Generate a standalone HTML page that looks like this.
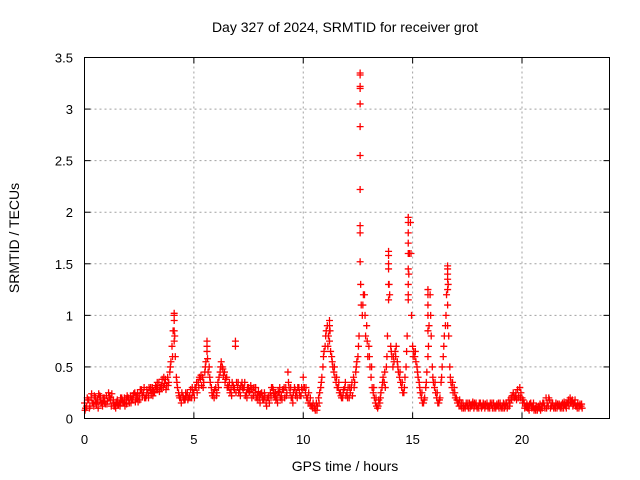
<!DOCTYPE html>
<html><head><meta charset="utf-8"><style>
body{margin:0;background:#fff}
svg{display:block;font-family:"Liberation Sans",sans-serif}
</style></head><body>
<svg id="chart" width="640" height="480" xmlns="http://www.w3.org/2000/svg">
<text x="345" y="32" font-size="14" text-anchor="middle">Day 327 of 2024, SRMTID for receiver grot</text>
<text x="345" y="471" font-size="14" text-anchor="middle">GPS time / hours</text>
<text transform="translate(19,238) rotate(-90)" font-size="14" text-anchor="middle">SRMTID / TECUs</text>
<g id="grid"></g>
<g id="ticks"></g>
<g id="pts"></g>
<rect x="84.5" y="57.5" width="525" height="361" fill="none" stroke="#000"/>
</svg>
<script>
const xTicks=[0,5,10,15,20];
const yTicks=[0,0.5,1,1.5,2,2.5,3,3.5];
const yTickLabels=["0","0.5","1","1.5","2","2.5","3","3.5"];
const startHour=0, stepHour=0.1;
const valuesA=[0.15,0.12,0.18,0.2,0.15,0.2,0.18,0.22,0.15,0.2,
0.22,0.25,0.18,0.15,0.12,0.18,0.15,0.2,0.15,0.18,
0.2,0.22,0.18,0.25,0.2,0.22,0.28,0.25,0.2,0.25,
0.28,0.3,0.25,0.3,0.35,0.32,0.3,0.38,0.4,0.45,
0.7,1.0,0.4,0.25,0.2,0.22,0.18,0.25,0.22,0.2,
0.25,0.3,0.35,0.38,0.4,0.45,0.65,0.5,0.3,0.25,
0.3,0.35,0.45,0.5,0.45,0.4,0.3,0.28,0.32,0.7,
0.3,0.28,0.35,0.3,0.25,0.3,0.32,0.28,0.25,0.22,
0.2,0.25,0.18,0.15,0.2,0.25,0.3,0.22,0.2,0.25,
0.22,0.28,0.3,0.45,0.25,0.2,0.3,0.25,0.3,0.22,
0.4,0.25,0.2,0.15,0.12,0.1,0.15,0.2,0.3,0.5,
0.7,0.9,0.75,0.6,0.45,0.35,0.3,0.25,0.2,0.3,
0.25,0.2,0.3,0.4,0.45,0.6,1.8,1.0,1.2,0.9,
0.7,0.4,0.25,0.15,0.1,0.15,0.3,0.35,0.5,1.5,
0.7,0.5,0.65,0.55,0.4,0.3,0.25,0.5,1.2,1.9,
0.7,0.6,0.5,0.35,0.2,0.15,0.3,0.6,1.2,0.5,
0.3,0.2,0.15,0.35,0.6,0.9,1.4,0.5,0.3,0.3,
0.2,0.15,0.12,0.15,0.1,0.12,0.15,0.12,0.1,0.15,
0.12,0.15,0.12,0.1,0.15,0.12,0.13,0.15,0.1,0.12,
0.15,0.12,0.1,0.15,0.18,0.2,0.25,0.22,0.28,0.3,
0.2,0.15,0.12,0.1,0.15,0.12,0.1,0.08,0.1,0.12,
0.15,0.2,0.12,0.1,0.15,0.12,0.1,0.14,0.12,0.1,
0.12,0.15,0.2,0.18,0.15,0.12,0.1,0.12];
const valuesB=[0.1,0.18,0.12,0.15,0.22,0.14,0.24,0.16,0.2,0.14,
0.17,0.2,0.24,0.12,0.16,0.13,0.2,0.16,0.12,0.22,
0.15,0.18,0.24,0.2,0.16,0.28,0.22,0.2,0.28,0.3,
0.24,0.26,0.32,0.28,0.3,0.38,0.34,0.32,0.35,0.55,
0.85,0.6,0.3,0.2,0.25,0.18,0.22,0.2,0.28,0.25,
0.3,0.25,0.4,0.32,0.35,0.55,0.45,0.35,0.22,0.28,
0.25,0.4,0.55,0.42,0.38,0.32,0.25,0.35,0.28,0.35,
0.25,0.32,0.28,0.22,0.3,0.26,0.2,0.3,0.2,0.26,
0.24,0.18,0.22,0.2,0.15,0.3,0.24,0.18,0.26,0.2,
0.28,0.2,0.25,0.3,0.2,0.25,0.22,0.3,0.22,0.28,
0.3,0.2,0.25,0.12,0.15,0.08,0.12,0.25,0.4,0.65,
0.85,0.8,0.65,0.5,0.4,0.3,0.25,0.2,0.28,0.22,
0.3,0.25,0.22,0.35,0.55,0.8,1.1,1.2,0.8,0.6,
0.5,0.3,0.2,0.12,0.18,0.25,0.4,0.3,0.8,1.2,
0.6,0.55,0.7,0.45,0.35,0.25,0.4,0.8,1.6,1.0,
0.65,0.55,0.4,0.25,0.15,0.2,0.45,0.9,0.8,0.35,
0.25,0.15,0.2,0.5,0.8,1.2,0.8,0.35,0.25,0.2,
0.15,0.18,0.1,0.12,0.15,0.1,0.12,0.16,0.12,0.1,
0.15,0.1,0.14,0.12,0.1,0.15,0.1,0.12,0.14,0.1,
0.1,0.15,0.12,0.12,0.15,0.22,0.2,0.18,0.22,0.25,
0.18,0.12,0.1,0.14,0.1,0.08,0.12,0.12,0.08,0.15,
0.1,0.15,0.18,0.12,0.1,0.15,0.12,0.1,0.15,0.14,
0.15,0.12,0.16,0.14,0.12,0.15,0.14,0.1];
const valuesC=[0.08,0.2,0.1,0.24,0.12,0.16,0.1,0.2,0.12,0.16,
0.14,0.22,0.12,0.18,0.1,0.14,0.12,0.18,0.2,0.14,
0.18,0.15,0.22,0.16,0.24,0.18,0.25,0.3,0.22,0.2,
0.3,0.22,0.28,0.35,0.26,0.3,0.4,0.28,0.32,0.5,
0.6,0.8,0.35,0.22,0.15,0.2,0.25,0.18,0.2,0.3,
0.2,0.35,0.3,0.42,0.3,0.5,0.58,0.4,0.25,0.2,
0.22,0.3,0.5,0.48,0.35,0.3,0.35,0.22,0.3,0.25,
0.35,0.22,0.3,0.35,0.2,0.25,0.28,0.22,0.3,0.18,
0.15,0.22,0.25,0.12,0.22,0.2,0.28,0.25,0.15,0.3,
0.18,0.3,0.22,0.35,0.3,0.15,0.28,0.2,0.25,0.3,
0.3,0.3,0.15,0.2,0.1,0.12,0.08,0.15,0.35,0.6,
0.8,0.7,0.85,0.55,0.5,0.4,0.35,0.22,0.25,0.35,
0.2,0.3,0.35,0.3,0.5,0.7,1.3,1.1,1.0,0.75,
0.6,0.5,0.3,0.2,0.12,0.2,0.35,0.45,0.6,1.3,
0.65,0.6,0.6,0.5,0.45,0.35,0.3,0.65,1.4,1.6,
0.6,0.65,0.45,0.3,0.25,0.18,0.35,0.7,1.0,0.4,
0.35,0.25,0.18,0.4,0.7,1.0,1.3,0.4,0.35,0.25,
0.18,0.12,0.15,0.1,0.12,0.15,0.1,0.14,0.15,0.12,
0.1,0.12,0.15,0.14,0.12,0.1,0.15,0.1,0.12,0.15,
0.12,0.1,0.14,0.1,0.12,0.18,0.22,0.25,0.2,0.2,
0.15,0.1,0.14,0.08,0.12,0.15,0.08,0.1,0.14,0.1,
0.12,0.1,0.2,0.15,0.12,0.1,0.14,0.12,0.1,0.16,
0.1,0.18,0.15,0.12,0.18,0.1,0.12,0.14];
const spikeHours=[12.6,12.6,12.6,12.6,12.6,12.6,12.6,12.6,12.6,12.6,13.9,13.9,13.9,13.9,13.9,13.9,14.8,14.8,14.8,14.8,14.8,14.8,14.8,14.8,15.7,15.7,15.7,15.7,15.7,16.6,16.6,16.6,16.6,16.6,16.6,4.1,4.1,4.1,4.1,5.6,5.6,5.6,6.9,6.9,11.2,11.2,11.2];
const spikeValues=[3.35,3.33,3.22,3.2,3.05,2.83,2.55,2.22,1.87,1.52,1.62,1.58,1.5,1.45,1.3,1.15,1.95,1.9,1.8,1.7,1.6,1.45,1.3,1.15,1.25,1.2,1.1,1.0,0.85,1.48,1.45,1.35,1.25,1.1,0.9,1.02,0.95,0.85,0.75,0.75,0.7,0.65,0.75,0.7,0.95,0.9,0.85];

const X0=84.5,X1=609.5,Y0=418.5,Y1=57.5,XMAX=24,YMAX=3.5;
const xs=h=>X0+(X1-X0)*h/XMAX;
const ys=v=>Y0-(Y0-Y1)*v/YMAX;
const NS="http://www.w3.org/2000/svg";
const grid=document.getElementById('grid'),ticks=document.getElementById('ticks'),pts=document.getElementById('pts');
function mk(tag,attrs,parent){const e=document.createElementNS(NS,tag);for(const k in attrs)e.setAttribute(k,attrs[k]);parent.appendChild(e);return e;}
xTicks.forEach(t=>{
  const x=xs(t);
  if(t>0){const g=mk('line',{x1:x,x2:x,y1:Y0,y2:Y1,stroke:'#a0a0a0','stroke-dasharray':'2,3'},grid);
  
  }
  mk('line',{x1:x,x2:x,y1:Y0,y2:Y0-6,stroke:'#000'},ticks);
  mk('line',{x1:x,x2:x,y1:Y1,y2:Y1+6,stroke:'#000'},ticks);
  const l=mk('text',{x:x,y:444,'font-size':13,'text-anchor':'middle'},ticks);l.textContent=t;
  
  
});
yTicks.forEach((t,i)=>{
  const y=ys(t);
  if(t>0&&t<YMAX){const g=mk('line',{x1:X0,x2:X1,y1:y,y2:y,stroke:'#a0a0a0','stroke-dasharray':'2,3'},grid);
  
  }
  mk('line',{x1:X0,x2:X0+6,y1:y,y2:y,stroke:'#000'},ticks);
  mk('line',{x1:X1,x2:X1-6,y1:y,y2:y,stroke:'#000'},ticks);
  const l=mk('text',{x:73,y:y+5,'font-size':13,'text-anchor':'end'},ticks);l.textContent=yTickLabels[i];
  
  
});
let d='';
function cross(h,v){const x=xs(h),y=ys(v);d+=`M${x-3.5} ${y}h7M${x} ${y-3.5}v7`;}
valuesA.forEach((v,i)=>cross(startHour+i*stepHour,v));
valuesB.forEach((v,i)=>cross(startHour+i*stepHour+0.05,v));
valuesC.forEach((v,i)=>cross(startHour+i*stepHour+0.025,v));
spikeHours.forEach((h,i)=>cross(h,spikeValues[i]));
const p=mk('path',{d:d,stroke:'#ff0000','stroke-width':1.3,fill:'none'},pts);


</script>
</body></html>
